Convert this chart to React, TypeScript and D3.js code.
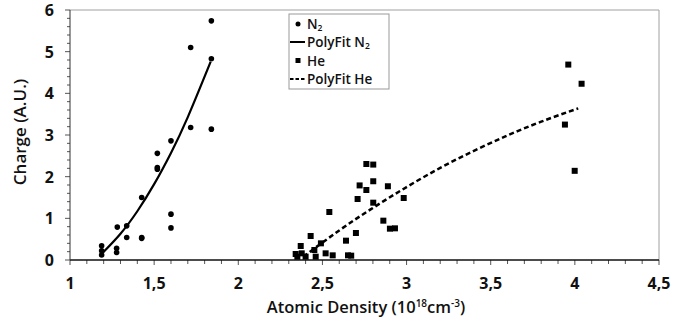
import React from "react";
import * as d3 from "d3";

const n2X = [1.188, 1.188, 1.188, 1.277, 1.277, 1.281, 1.337, 1.337, 1.426, 1.426, 1.426, 1.519, 1.519, 1.519, 1.6, 1.6, 1.6, 1.717, 1.717, 1.84, 1.84, 1.84];
const n2Y = [0.34, 0.22, 0.12, 0.28, 0.18, 0.79, 0.82, 0.54, 1.5, 0.54, 0.52, 2.56, 2.22, 2.18, 2.86, 1.1, 0.77, 5.1, 3.18, 5.74, 4.83, 3.14];

const heX = [2.341, 2.377, 2.351, 2.4, 2.371, 2.43, 2.452, 2.46, 2.491, 2.519, 2.541, 2.561, 2.64, 2.652, 2.671, 2.699, 2.709, 2.721, 2.761, 2.761, 2.802, 2.802, 2.802, 2.862, 2.889, 2.901, 2.931, 2.983, 3.961, 4.04, 3.941, 3.999];
const heY = [0.144, 0.16, 0.08, 0.08, 0.336, 0.576, 0.24, 0.08, 0.4, 0.16, 1.152, 0.112, 0.464, 0.112, 0.104, 0.648, 1.464, 1.79, 1.68, 2.304, 2.29, 1.89, 1.376, 0.944, 1.77, 0.752, 0.76, 1.488, 4.69, 4.23, 3.25, 2.14];

const n2FitX = [1.196, 1.3, 1.4, 1.5, 1.6, 1.7, 1.836];
const n2FitY = [0.18, 0.63, 1.17, 1.82, 2.57, 3.43, 4.76];

const heFitX = [2.386, 2.6, 2.8, 3.0, 3.2, 3.4, 3.6, 3.8, 4.02];
const heFitY = [0.08, 0.71, 1.25, 1.75, 2.21, 2.62, 2.99, 3.32, 3.64];

const xTicks = [1, 1.5, 2, 2.5, 3, 3.5, 4, 4.5];
const xTickLabels = ["1", "1,5", "2", "2,5", "3", "3,5", "4", "4,5"];
const yTicks = [0, 1, 2, 3, 4, 5, 6];
const yTickLabels = ["0", "1", "2", "3", "4", "5", "6"];

const W = 689;
const H = 331;
const FONT = "'Open Sans', 'DejaVu Sans', sans-serif";

export default function App() {
  const x = d3.scaleLinear().domain([1, 4.5]).range([70, 659]);
  const y = d3.scaleLinear().domain([0, 6]).range([260, 10]);

  const xMinor = d3.range(10, 46).map((v) => v / 10);
  const yMinor = d3.range(0, 31).map((v) => v / 5);

  const line = d3
    .line<[number, number]>()
    .x((d) => x(d[0]))
    .y((d) => y(d[1]))
    .curve(d3.curveNatural);

  const n2Fit = n2FitX.map((v, i) => [v, n2FitY[i]] as [number, number]);
  const heFit = heFitX.map((v, i) => [v, heFitY[i]] as [number, number]);

  const lx = 289;
  const ly = 14;

  return (
    <svg
      width={W}
      height={H}
      style={{ position: "absolute", left: 0, top: 0, background: "#fff" }}
      fontFamily={FONT}
    >
      {/* frame top/right */}
      <line x1={x(1)} x2={x(4.5)} y1={y(6)} y2={y(6)} stroke="#a0a0a0" strokeWidth={1} />
      <line x1={x(4.5)} x2={x(4.5)} y1={y(6)} y2={y(0)} stroke="#a0a0a0" strokeWidth={1} />

      {/* x minor ticks */}
      {xMinor.map((v, i) => (
        <line
          key={"xm" + i}
          x1={x(v)}
          x2={x(v)}
          y1={y(0)}
          y2={y(0) + (Math.abs(v * 2 - Math.round(v * 2)) < 1e-6 ? 5 : 4)}
          stroke="#555"
          strokeWidth={1}
        />
      ))}
      {/* y minor ticks */}
      {yMinor.map((v, i) => (
        <line
          key={"ym" + i}
          x1={x(1)}
          x2={x(1) - (Math.abs(v - Math.round(v)) < 1e-6 ? 5 : 3)}
          y1={y(v)}
          y2={y(v)}
          stroke="#555"
          strokeWidth={1}
        />
      ))}

      {/* axes */}
      <line x1={x(1)} x2={x(4.5)} y1={y(0)} y2={y(0)} stroke="#111" strokeWidth={1.3} />
      <line x1={x(1)} x2={x(1)} y1={y(0)} y2={y(6)} stroke="#333" strokeWidth={1} />

      {/* tick labels */}
      {xTicks.map((v, i) => (
        <text
          key={"xt" + i}
          x={x(v)}
          y={289}
          textAnchor="middle"
          fontSize={16}
          fontWeight={700}
          fill="#111"
        >
          {xTickLabels[i]}
        </text>
      ))}
      {yTicks.map((v, i) => (
        <text
          key={"yt" + i}
          x={54}
          y={y(v) + 6}
          textAnchor="end"
          fontSize={16}
          fontWeight={700}
          fill="#111"
        >
          {yTickLabels[i]}
        </text>
      ))}

      {/* axis titles */}
      <text x={366} y={313} textAnchor="middle" fontSize={16.5} fontWeight={600} fill="#111">
        Atomic Density (10
        <tspan fontSize={10} dy={-6}>18</tspan>
        <tspan dy={6}>cm</tspan>
        <tspan fontSize={10} dy={-6}>-3</tspan>
        <tspan dy={6}>)</tspan>
      </text>
      <text
        transform={`translate(26,${y(3) - 3}) rotate(-90)`}
        textAnchor="middle"
        fontSize={17}
        fontWeight={600}
        fill="#111"
      >
        Charge (A.U.)
      </text>

      {/* fit lines */}
      <path d={line(n2Fit) || ""} fill="none" stroke="#000" strokeWidth={2.2} />
      <path d={line(heFit) || ""} fill="none" stroke="#000" strokeWidth={2.5} strokeDasharray="5,3" />

      {/* N2 points */}
      {n2X.map((v, i) => (
        <circle key={"n" + i} cx={x(v)} cy={y(n2Y[i])} r={2.8} fill="#000" />
      ))}
      {/* He points */}
      {heX.map((v, i) => (
        <rect key={"h" + i} x={x(v) - 3} y={y(heY[i]) - 3} width={6} height={6} fill="#000" />
      ))}

      {/* legend */}
      <g>
        <rect x={lx} y={ly} width={100} height={75} fill="#fff" stroke="#999" strokeWidth={1} />
        <circle cx={lx + 9} cy={ly + 10} r={2.5} fill="#000" />
        <text x={lx + 18} y={ly + 15} fontSize={13.5} fontWeight={600} fill="#111">
          N<tspan fontSize={8.5} dy={1.5}>2</tspan>
        </text>
        <line x1={lx + 1} x2={lx + 16} y1={ly + 28} y2={ly + 28} stroke="#000" strokeWidth={2} />
        <text x={lx + 18} y={ly + 33} fontSize={13.5} fontWeight={600} fill="#111">
          PolyFit N<tspan fontSize={8.5} dy={1.5}>2</tspan>
        </text>
        <rect x={lx + 6.5} y={ly + 44} width={5} height={5} fill="#000" />
        <text x={lx + 18} y={ly + 51.5} fontSize={13.5} fontWeight={600} fill="#111">
          He
        </text>
        <line x1={lx + 1} x2={lx + 16} y1={ly + 65} y2={ly + 65} stroke="#000" strokeWidth={2} strokeDasharray="3.5,2" />
        <text x={lx + 18} y={ly + 70} fontSize={13.5} fontWeight={600} fill="#111">
          PolyFit He
        </text>
      </g>
    </svg>
  );
}
